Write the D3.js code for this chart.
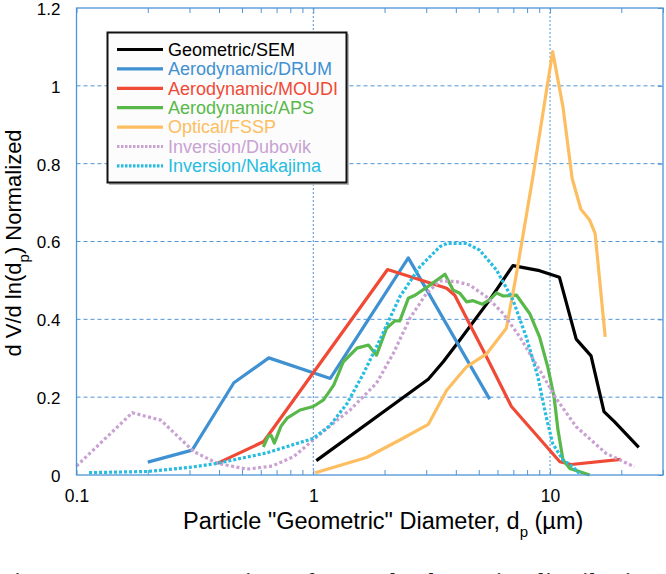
<!DOCTYPE html>
<html><head><meta charset="utf-8">
<script src="https://cdn.jsdelivr.net/npm/d3@7"></script>
<style>
html,body{margin:0;padding:0;background:#fff;}
svg{display:block;font-family:"Liberation Sans",Arial,Helvetica,sans-serif;}
</style></head>
<body><svg id="c" width="666" height="574"></svg>
<script>
// ---- data ----
const xTickValues = [0.1, 1, 10];
const xTickLabels = ["0.1", "1", "10"];
const yTickValues = [0, 0.2, 0.4, 0.6, 0.8, 1, 1.2];
const yTickLabels = ["0", "0.2", "0.4", "0.6", "0.8", "1", "1.2"];
const seriesNames = ["Geometric/SEM","Aerodynamic/DRUM","Aerodynamic/MOUDI","Aerodynamic/APS","Optical/FSSP","Inversion/Dubovik","Inversion/Nakajima"];
const seriesColors = ["#000000","#3f91d2","#f04a36","#58b94a","#fdbe61","#c9a2d2","#27bce0"];

const semD = [1.03, 3.06, 3.54, 4.16, 5.56, 6.97, 9.03, 10.96, 12.9, 14.9, 16.9, 18.7, 23.7];
const semV = [0.037, 0.246, 0.291, 0.347, 0.45, 0.538, 0.525, 0.508, 0.349, 0.306, 0.163, 0.137, 0.071];

const drumD = [0.20, 0.308, 0.462, 0.649, 1.18, 2.52, 5.56];
const drumV = [0.033, 0.064, 0.237, 0.301, 0.248, 0.558, 0.195];

const moudiD = [0.393, 0.618, 2.06, 3.66, 3.96, 5.39, 6.87, 11.0, 12.3, 19.9];
const moudiV = [0.030, 0.086, 0.528, 0.48, 0.462, 0.304, 0.176, 0.034, 0.027, 0.040];

const apsD = [0.615, 0.645, 0.665, 0.685, 0.73, 0.775, 0.88, 1.0, 1.105, 1.22, 1.34, 1.53, 1.71, 1.85, 2.04, 2.21, 2.32, 2.52, 2.69, 3.11, 3.60, 3.90, 4.16, 4.44, 4.73, 5.18, 5.56, 5.94, 6.34, 7.22, 8.2, 9.03, 9.78, 10.4, 10.8, 11.34, 12.1, 14.7];
const apsV = [0.072, 0.100, 0.101, 0.082, 0.125, 0.146, 0.167, 0.176, 0.193, 0.231, 0.291, 0.326, 0.334, 0.308, 0.377, 0.396, 0.396, 0.454, 0.462, 0.488, 0.516, 0.475, 0.467, 0.445, 0.448, 0.439, 0.45, 0.468, 0.46, 0.462, 0.415, 0.355, 0.278, 0.201, 0.116, 0.039, 0.017, 0.0];

const fsspD = [1.02, 1.68, 2.32, 3.06, 3.66, 4.44, 5.39, 6.54, 7.22, 8.46, 10.26, 11.34, 12.4, 13.5, 14.7, 15.5, 17.1];
const fsspV = [0.006, 0.045, 0.09, 0.13, 0.218, 0.278, 0.311, 0.377, 0.518, 0.766, 1.088, 0.946, 0.762, 0.683, 0.655, 0.621, 0.355];

const dubD = [0.1, 0.172, 0.227, 0.313, 0.393, 0.526, 0.67, 0.826, 1.0, 1.26, 1.43, 1.85, 2.18, 2.56, 3.01, 3.43, 4.03, 4.58, 5.39, 6.34, 7.45, 9.03, 10.6, 12.9, 17.2, 22.7];
const dubV = [0.023, 0.16, 0.141, 0.06, 0.03, 0.015, 0.023, 0.047, 0.09, 0.141, 0.167, 0.236, 0.313, 0.403, 0.467, 0.499, 0.497, 0.488, 0.458, 0.415, 0.355, 0.27, 0.197, 0.124, 0.056, 0.021];

const nakD = [0.113, 0.199, 0.304, 0.393, 0.638, 1.0, 1.18, 1.39, 1.63, 1.91, 2.32, 2.82, 3.43, 3.66, 4.44, 5.04, 5.94, 6.97, 7.93, 8.88, 9.63, 10.26, 11.34, 12.5, 13.3];
const nakV = [0.006, 0.009, 0.02, 0.03, 0.057, 0.094, 0.128, 0.184, 0.261, 0.347, 0.458, 0.535, 0.587, 0.595, 0.595, 0.578, 0.527, 0.45, 0.355, 0.253, 0.15, 0.081, 0.039, 0.021, 0.004];

const seriesD = [semD, drumD, moudiD, apsD, fsspD, dubD, nakD];
const seriesV = [semV, drumV, moudiV, apsV, fsspV, dubV, nakV];
const seriesDash = [null, null, null, null, null, "3,2.5", "3,2"];

// ---- layout ----
const svg = d3.select("#c");
const L = 76.5, R = 663, T = 8, B = 475;
const x = d3.scaleLog().domain([0.1, 30]).range([L, R]);
const y = d3.scaleLinear().domain([0, 1.2]).range([B, T]);
const frameCol = "#4f94d6";

// grid
const g = svg.append("g");
g.selectAll("line.hg").data([0.2,0.4,0.6,0.8,1.0]).join("line")
  .attr("x1", L).attr("x2", R).attr("y1", d=>y(d)).attr("y2", d=>y(d))
  .attr("stroke", frameCol).attr("stroke-width", 1).attr("stroke-dasharray", "4,3");
g.selectAll("line.vg").data([1, 10]).join("line")
  .attr("x1", d=>x(d)).attr("x2", d=>x(d)).attr("y1", T).attr("y2", B)
  .attr("stroke", frameCol).attr("stroke-width", 1).attr("stroke-dasharray", "2,2");

// axes with d3
const minor = [];
[0.1, 1, 10].forEach(b => { for (let k = 1; k <= 9; k++) { const v = b*k; if (v <= 30 && v >= 0.1) minor.push(v); } });
const xAxisB = d3.axisBottom(x).tickValues(minor).tickSize(-5).tickFormat("");
const xAxisT = d3.axisTop(x).tickValues(minor).tickSize(-5).tickFormat("");
const gb = svg.append("g").attr("transform", `translate(0,${B})`).call(xAxisB);
const gt = svg.append("g").attr("transform", `translate(0,${T})`).call(xAxisT);
const yAxisL = d3.axisLeft(y).tickValues(yTickValues).tickSize(0).tickFormat("");
const yAxisR = d3.axisRight(y).tickValues(yTickValues).tickSize(-5).tickFormat("");
const gl = svg.append("g").attr("transform", `translate(${L},0)`).call(yAxisL);
const gr = svg.append("g").attr("transform", `translate(${R},0)`).call(yAxisR);
[gb, gt, gl, gr].forEach(a => { a.select(".domain").remove(); a.selectAll("line").attr("stroke", frameCol); });

// tick labels
const xl = d3.axisBottom(x).tickValues(xTickValues).tickSize(0).tickFormat((d,i)=>xTickLabels[i]);
const gxl = svg.append("g").attr("transform", `translate(0,${B})`).call(xl);
gxl.select(".domain").remove();
gxl.selectAll("text").attr("y", 15).attr("dy", "0.71em").attr("font-size", 17.5)
  .attr("font-family", "Liberation Sans, Arial, sans-serif").attr("fill", "#000");
const yl = d3.axisLeft(y).tickValues(yTickValues).tickSize(0).tickFormat((d,i)=>yTickLabels[i]);
const gyl = svg.append("g").attr("transform", `translate(${L},0)`).call(yl);
gyl.select(".domain").remove();
gyl.selectAll("text").attr("x", -16).attr("dy", "0.38em").attr("font-size", 17)
  .attr("font-family", "Liberation Sans, Arial, sans-serif").attr("fill", "#000");

// series
const line = d3.line().x(d=>x(d[0])).y(d=>y(d[1]));
const plot = svg.append("g");
seriesNames.forEach((n, i) => {
  const pts = seriesD[i].map((d, j) => [d, seriesV[i][j]]);
  const p = plot.append("path").attr("d", line(pts)).attr("fill", "none")
    .attr("stroke", seriesColors[i]).attr("stroke-width", 3.2)
    .attr("stroke-linejoin", "round");
  if (seriesDash[i]) p.attr("stroke-dasharray", seriesDash[i]);
});

// frame
svg.append("rect").attr("x", L).attr("y", T).attr("width", R-L).attr("height", B-T)
  .attr("fill", "none").attr("stroke", frameCol).attr("stroke-width", 1.3);

// legend
const lg = svg.append("g");
lg.append("rect").attr("x", 109).attr("y", 34).attr("width", 240).attr("height", 151).attr("fill", "#bbb");
lg.append("rect").attr("x", 107.5).attr("y", 32.5).attr("width", 239).attr("height", 150)
  .attr("fill", "#fcfcfc").attr("stroke", "#111").attr("stroke-width", 2);
seriesNames.forEach((n, i) => {
  const yy = 49.5 + i*19.4;
  const l = lg.append("line").attr("x1", 117).attr("x2", 163).attr("y1", yy).attr("y2", yy)
    .attr("stroke", seriesColors[i]).attr("stroke-width", 3.2);
  if (seriesDash[i]) l.attr("stroke-dasharray", "2.5,1.5");
  lg.append("text").attr("x", 168).attr("y", yy + 6.3).attr("font-size", 18)
    .attr("fill", seriesColors[i] === "#000000" ? "#000" : seriesColors[i]).text(n);
});

// axis titles
const xt = svg.append("text").attr("x", 183).attr("y", 529).attr("font-size", 23.5).attr("fill", "#000");
xt.append("tspan").text('Particle "Geometric" Diameter, d');
xt.append("tspan").attr("dy", 8).attr("font-size", 15).text("p");
xt.append("tspan").attr("dy", -8).text(" (\u00b5m)");

const yt = svg.append("text").attr("transform", "translate(21,243) rotate(-90)")
  .attr("text-anchor", "middle").attr("font-size", 22).attr("fill", "#000");
yt.append("tspan").text("d V/d ln(d");
yt.append("tspan").attr("dy", 8).attr("font-size", 15).text("p");
yt.append("tspan").attr("dy", -8).text(") Normalized");

// cut-off caption (only its top edge shows in the reference)
svg.append("text").attr("x", 0).attr("y", 587.5).attr("font-family", "Liberation Serif, Times New Roman, serif")
  .attr("font-weight", "bold").attr("font-size", 21).attr("textLength", 666).attr("lengthAdjust", "spacing")
  .attr("fill", "#222").text("Figure 30.  Intercomparison of aerosol volume size distributions");
</script></body></html>
